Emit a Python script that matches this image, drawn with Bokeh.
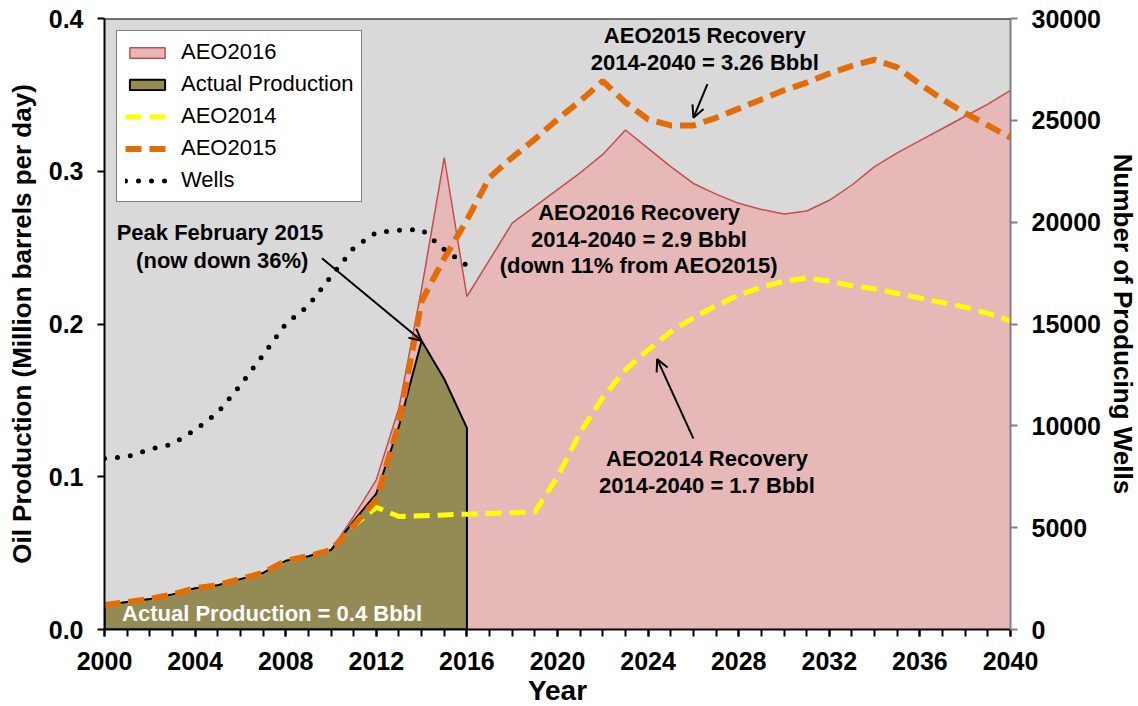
from bokeh.plotting import figure
from bokeh.models import (Range1d, LinearAxis, FixedTicker, PrintfTickFormatter, Legend,
                          LegendItem, Label, Arrow, OpenHead, Span)
from bokeh.embed import file_html
from bokeh.resources import INLINE

# ---------------- data ----------------
years_actual = list(range(2000, 2017))
actual_production = [0.016, 0.018, 0.020, 0.023, 0.027, 0.029, 0.033, 0.037, 0.045, 0.048, 0.052,
                     0.071, 0.089, 0.133, 0.189, 0.164, 0.132]

years = list(range(2000, 2041))
aeo2016 = [0.016, 0.018, 0.020, 0.023, 0.027, 0.029, 0.033, 0.037, 0.045, 0.048, 0.052,
           0.074, 0.098, 0.145, 0.223, 0.309, 0.218,
           0.242, 0.266, 0.277, 0.288, 0.299, 0.311, 0.327, 0.315, 0.303, 0.292, 0.285, 0.279,
           0.275, 0.272, 0.274, 0.281, 0.291, 0.303, 0.312, 0.320, 0.328, 0.336, 0.344, 0.353]
aeo2015 = [0.016, 0.018, 0.020, 0.023, 0.027, 0.029, 0.033, 0.037, 0.045, 0.048, 0.052,
           0.068, 0.085, 0.135, 0.215, 0.243, 0.268,
           0.296, 0.309, 0.321, 0.334, 0.346, 0.359, 0.345, 0.334, 0.330, 0.330, 0.335, 0.341,
           0.347, 0.353, 0.358, 0.364, 0.369, 0.373, 0.368, 0.357, 0.347, 0.338, 0.330, 0.322]
aeo2014 = [0.016, 0.018, 0.020, 0.023, 0.027, 0.029, 0.033, 0.037, 0.045, 0.048, 0.052,
           0.068, 0.080, 0.074, 0.0745, 0.075, 0.0755,
           0.076, 0.0765, 0.077, 0.100, 0.129, 0.152, 0.170, 0.183, 0.195, 0.204, 0.212, 0.219,
           0.224, 0.228, 0.230, 0.228, 0.225, 0.223, 0.220, 0.217, 0.214, 0.211, 0.207, 0.202]
wells = [8400, 8480, 8850, 9100, 9800, 10650, 12000, 13470, 15000, 15900, 17330,
         18730, 19500, 19600, 19640, 18660, 17870]

x_ticks = list(range(2000, 2041, 4))
y_ticks = [0.0, 0.1, 0.2, 0.3, 0.4]
wells_ticks = [0, 5000, 10000, 15000, 20000, 25000, 30000]

FONT = "Liberation Sans"

# ---------------- figure ----------------
p = figure(frame_width=906, frame_height=611,
           x_range=Range1d(2000, 2040), y_range=Range1d(0, 0.4),
           output_backend="svg", toolbar_location=None,
           min_border_left=104, min_border_right=118, min_border_top=18, min_border_bottom=60)
p.extra_y_ranges = {"wells": Range1d(0, 30000)}
p.background_fill_color = "#d9d9d9"
p.border_fill_color = "white"
p.outline_line_color = None
p.xgrid.visible = False
p.ygrid.visible = False

# AEO2016 area (closed just outside the frame so only the curve edge is visible)
x16 = years + [years[-1] + 1, years[0] - 1]
y16 = aeo2016 + [-0.01, -0.01]
r16 = p.patch(x=x16, y=y16, fill_color="#e6b8b7", line_color="#c0504d", line_width=1.5)

# Actual production
ax_x = years_actual + [years_actual[-1], years_actual[0]]
ax_y = actual_production + [0, 0]
r_act = p.patch(x=ax_x, y=ax_y, fill_color="#948a54", line_color="black", line_width=2)

# AEO2014 / AEO2015
r14 = p.line(years, aeo2014, line_color="#ffff00", line_width=5, line_dash="16 8")
r15 = p.line(years, aeo2015, line_color="#e36c09", line_width=6, line_dash="16 8")

# Wells (right axis)
rw = p.line(years_actual, wells, y_range_name="wells", line_color="black", line_width=5,
            line_dash="0 13", line_cap="round")

# ---------------- axes ----------------
for ax in (p.xaxis[0], p.yaxis[0]):
    ax.axis_line_color = "black"
    ax.axis_line_width = 2
    ax.major_tick_line_color = "black"
    ax.major_tick_line_width = 2
    ax.minor_tick_line_color = "black"
    ax.minor_tick_line_width = 2
    ax.major_tick_in = 0
    ax.major_tick_out = 7
    ax.minor_tick_in = 0
    ax.minor_tick_out = 7
    ax.major_label_text_font = FONT
    ax.major_label_text_font_style = "bold"
    ax.major_label_text_font_size = "25px"
    ax.major_label_text_color = "black"
    ax.axis_label_text_font = FONT
    ax.axis_label_text_font_style = "bold"
    ax.axis_label_text_color = "black"

p.xaxis.ticker = FixedTicker(ticks=x_ticks, minor_ticks=years)
p.xaxis.axis_label = "Year"
p.xaxis.axis_label_text_font_size = "28px"
p.xaxis.major_label_standoff = 15
p.xaxis.axis_label_standoff = 2

p.yaxis.ticker = FixedTicker(ticks=y_ticks, minor_ticks=[])
p.yaxis.formatter = PrintfTickFormatter(format="%.1f")
p.yaxis.axis_label = "Oil Production (Million barrels per day)"
p.yaxis.axis_label_text_font_size = "26px"
p.yaxis.major_label_standoff = 14
p.yaxis.axis_label_standoff = 9

raxis = LinearAxis(y_range_name="wells", ticker=FixedTicker(ticks=wells_ticks, minor_ticks=[]),
                   formatter=PrintfTickFormatter(format="%d"),
                   axis_label="Number of Producing Wells")
raxis.axis_line_color = "#808080"
raxis.axis_line_width = 2
raxis.major_tick_line_color = "#808080"
raxis.major_tick_line_width = 2
raxis.major_tick_in = 0
raxis.major_tick_out = 7
raxis.major_label_standoff = 14
raxis.major_label_text_font = FONT
raxis.major_label_text_font_style = "bold"
raxis.major_label_text_font_size = "25px"
raxis.major_label_text_color = "black"
raxis.axis_label_text_font = FONT
raxis.axis_label_text_font_style = "bold"
raxis.axis_label_text_font_size = "26px"
raxis.axis_label_text_color = "black"
raxis.axis_label_standoff = 4
p.add_layout(raxis, "right")

# top border
p.add_layout(Span(location=0.4, dimension="width", line_color="black", line_width=2))

# ---------------- legend ----------------
legend = Legend(items=[
    LegendItem(label="AEO2016", renderers=[r16]),
    LegendItem(label="Actual Production", renderers=[r_act]),
    LegendItem(label="AEO2014", renderers=[r14]),
    LegendItem(label="AEO2015", renderers=[r15]),
    LegendItem(label="Wells", renderers=[rw]),
], location="top_left")
legend.margin = 12
legend.padding = 8
legend.spacing = 6
legend.glyph_width = 44
legend.glyph_height = 13
legend.label_height = 24
legend.label_standoff = 12
legend.label_text_font = FONT
legend.label_text_font_size = "22px"
legend.label_text_color = "black"
legend.border_line_color = "black"
legend.border_line_width = 1.5
legend.background_fill_color = "white"
legend.background_fill_alpha = 1
p.add_layout(legend, "center")

# ---------------- annotations ----------------
def lab(x, y, text, color="black", size="22px"):
    p.add_layout(Label(x=x, y=y, text=text, text_align="center", text_baseline="middle",
                       text_font=FONT, text_font_style="bold", text_font_size=size,
                       text_color=color))

lab(2005.1, 0.260, "Peak February 2015")
lab(2005.2, 0.2415, "(now down 36%)")
lab(2026.5, 0.389, "AEO2015 Recovery")
lab(2026.5, 0.371, "2014-2040 = 3.26 Bbbl")
lab(2023.6, 0.273, "AEO2016 Recovery")
lab(2023.6, 0.255, "2014-2040 = 2.9 Bbbl")
lab(2023.6, 0.238, "(down 11% from AEO2015)")
lab(2026.6, 0.112, "AEO2014 Recovery")
lab(2026.6, 0.094, "2014-2040 = 1.7 Bbbl")
lab(2007.4, 0.0105, "Actual Production = 0.4 Bbbl", color="white")

for xs, ys, xe, ye in [(2009.6, 0.243, 2014.0, 0.189),
                       (2026.62, 0.357, 2026.0, 0.335),
                       (2026.0, 0.125, 2024.4, 0.177)]:
    p.add_layout(Arrow(end=OpenHead(size=12, line_width=2, line_color="black"),
                       x_start=xs, y_start=ys, x_end=xe, y_end=ye,
                       line_color="black", line_width=2))

open("out.html", "w").write(file_html(p, INLINE))
